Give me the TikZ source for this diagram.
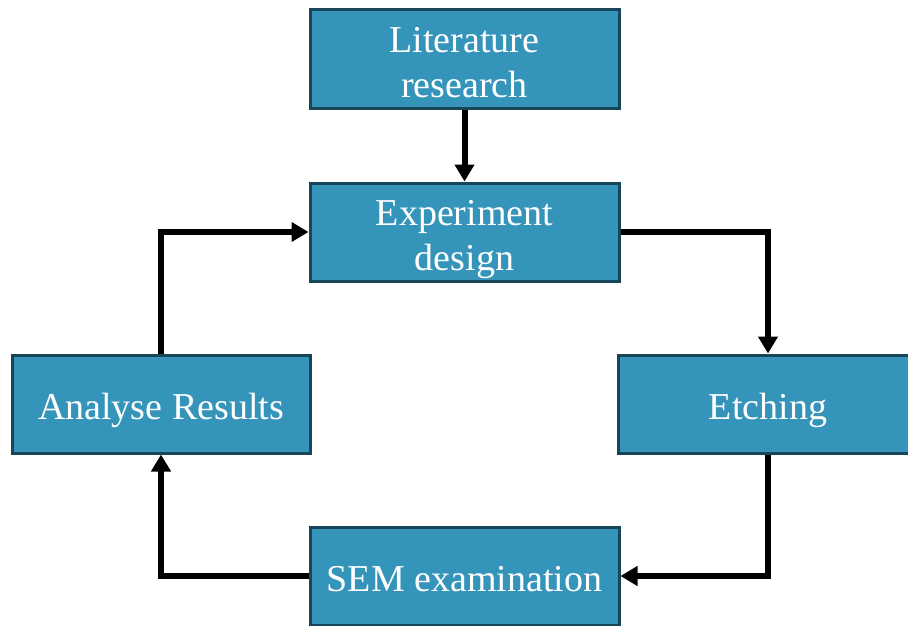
\documentclass[tikz,border=0pt]{standalone}
\usepackage{fontspec}
\setmainfont{Liberation Serif}
\usetikzlibrary{arrows.meta,positioning}
\definecolor{boxfill}{HTML}{3594BA}
\definecolor{boxline}{HTML}{17465A}

\begin{document}
\begin{tikzpicture}[x=1pt,y=-1pt,
  stage/.style={draw=boxline, line width=3pt, fill=boxfill, text=white,
    font=\fontsize{38}{45}\selectfont, align=center,
    minimum height=98pt, inner sep=0pt},
  twoline/.style={text height=76pt, text depth=0pt},
  oneline/.style={text height=30pt, text depth=0pt},
  flow/.style={line width=6pt, -{Triangle[width=19pt,length=17pt]}}]
  \useasboundingbox (0,0) rectangle (908,626);

  % --- stages ---
  \node[stage, twoline, minimum width=309pt] (lit) at (464.5,59) {Literature\\research};
  \node[stage, twoline, minimum width=309pt, below=72pt of lit] (exp) {Experiment\\design};
  \node[stage, oneline, minimum width=298pt] (ana) at (161,404) {Analyse Results};
  \node[stage, oneline, minimum width=300pt] (etch) at (768,404) {Etching};
  \node[stage, oneline, minimum width=309pt] (sem) at (464.5,576) {SEM examination};

  % --- loop ---
  \draw[flow] (lit) -- (exp);
  \draw[flow] (exp.east) -| (etch.north);
  \draw[flow] (etch.south) |- (sem.east);
  \draw[flow] (sem.west) -| (ana.south);
  \draw[flow] (ana.north) |- (exp.west);
\end{tikzpicture}
\end{document}
